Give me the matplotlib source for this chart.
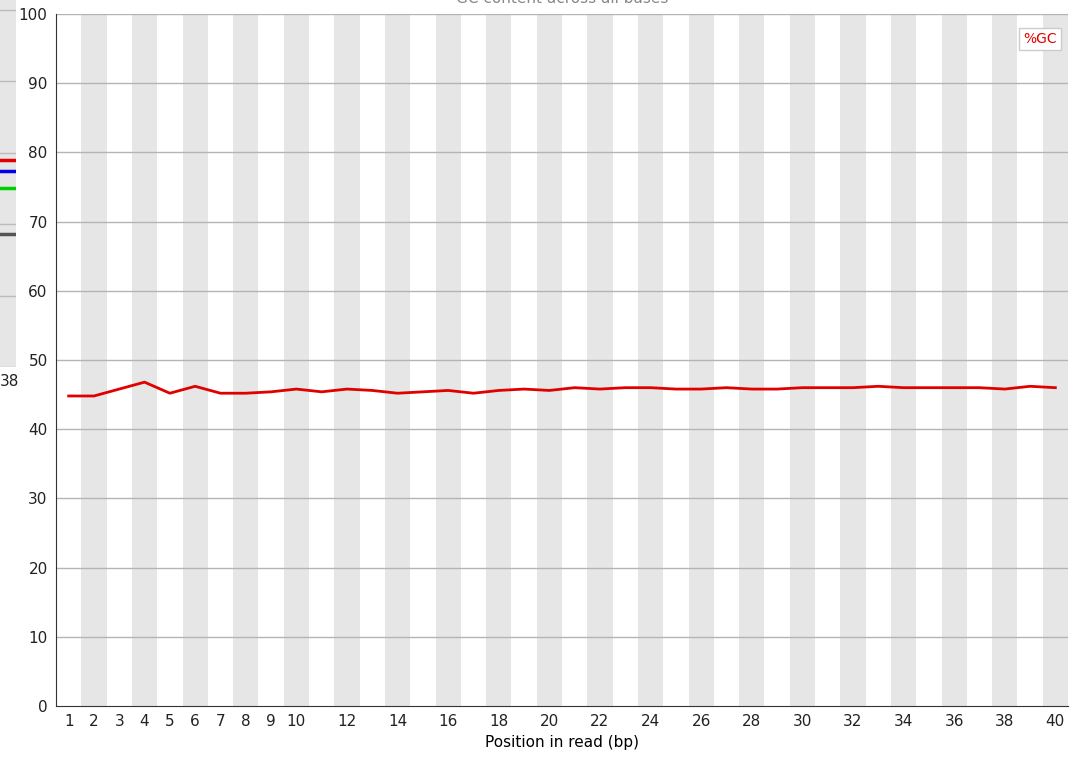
import matplotlib.pyplot as plt
import numpy as np

positions = list(range(1, 41))
gc_percent = [44.8, 44.8, 45.8, 46.8, 45.2, 46.2, 45.2, 45.2, 45.4, 45.8,
              45.4, 45.8, 45.6, 45.2, 45.4, 45.6, 45.2, 45.6, 45.8, 45.6,
              46.0, 45.8, 46.0, 46.0, 45.8, 45.8, 46.0, 45.8, 45.8, 46.0,
              46.0, 46.0, 46.2, 46.0, 46.0, 46.0, 46.0, 45.8, 46.2, 46.0]
xtick_labels = ["1", "2", "3", "4", "5", "6", "7", "8", "9", "10"] + \
               [str(p) for p in range(12, 41, 2)]
xtick_pos = list(range(1, 11)) + list(range(12, 41, 2))

# leftover of a neighbouring chart at the left edge
stub_values = [79.0, 77.5, 75.1, 68.6]
stub_colors = ["#e00000", "#0000e0", "#00d000", "#555555"]

fig = plt.figure(figsize=(10.81, 7.57), dpi=100)

# neighbour strip
side = fig.add_axes([0, (757 - 367) / 757, 16 / 1081, 367 / 757])
side.set_facecolor("#e6e6e6")
side.set_xlim(0, 1)
side.set_ylim(50, 101.4)
for v in [50, 60, 70, 80, 90, 100]:
    side.axhline(v, color="#bbbbbb", lw=1)
for v, c in zip(stub_values, stub_colors):
    side.plot([0, 1], [v, v], color=c, lw=2.5)
side.set_xticks([])
side.set_yticks([])
for s in side.spines.values():
    s.set_visible(False)
fig.text(0.0, (757 - 381) / 757, "38", fontsize=11, va="center", ha="left", color="#222222")

ax = fig.add_axes([56 / 1081, 51 / 757, 1012 / 1081, 692 / 757])
ax.set_xlim(0.5, 40.5)
ax.set_ylim(0, 100)
for p in positions:
    if p % 2 == 0:
        ax.axvspan(p - 0.5, p + 0.5, color="#e6e6e6", lw=0, zorder=0)
for v in range(10, 101, 10):
    ax.axhline(v, color="#b4b4b4", lw=1, zorder=1)
ax.plot(positions, gc_percent, color="#e00000", lw=2, zorder=3)

ax.set_xticks(xtick_pos)
ax.set_xticklabels(xtick_labels)
ax.set_yticks(range(0, 101, 10))
ax.tick_params(length=0, labelsize=11, colors="#222222", pad=6)
for s in ["top", "right"]:
    ax.spines[s].set_visible(False)
ax.spines["left"].set_color("#333333")
ax.spines["bottom"].set_color("#333333")
ax.set_xlabel("Position in read (bp)", fontsize=11, labelpad=4)
ax.text(0.5, 1.012, "GC content across all bases", transform=ax.transAxes,
        ha="center", va="bottom", fontsize=11, color="#888888", clip_on=False)

leg = ax.legend(["%GC"], loc="upper right", handlelength=0,
                handletextpad=0, fontsize=10, fancybox=False, framealpha=1,
                borderpad=0.3, bbox_to_anchor=(1.0, 0.99))
leg.get_frame().set_edgecolor("#cccccc")
for t in leg.get_texts():
    t.set_color("#e00000")
for h in leg.legend_handles:
    h.set_visible(False)

fig.savefig("out.png", dpi=100)
